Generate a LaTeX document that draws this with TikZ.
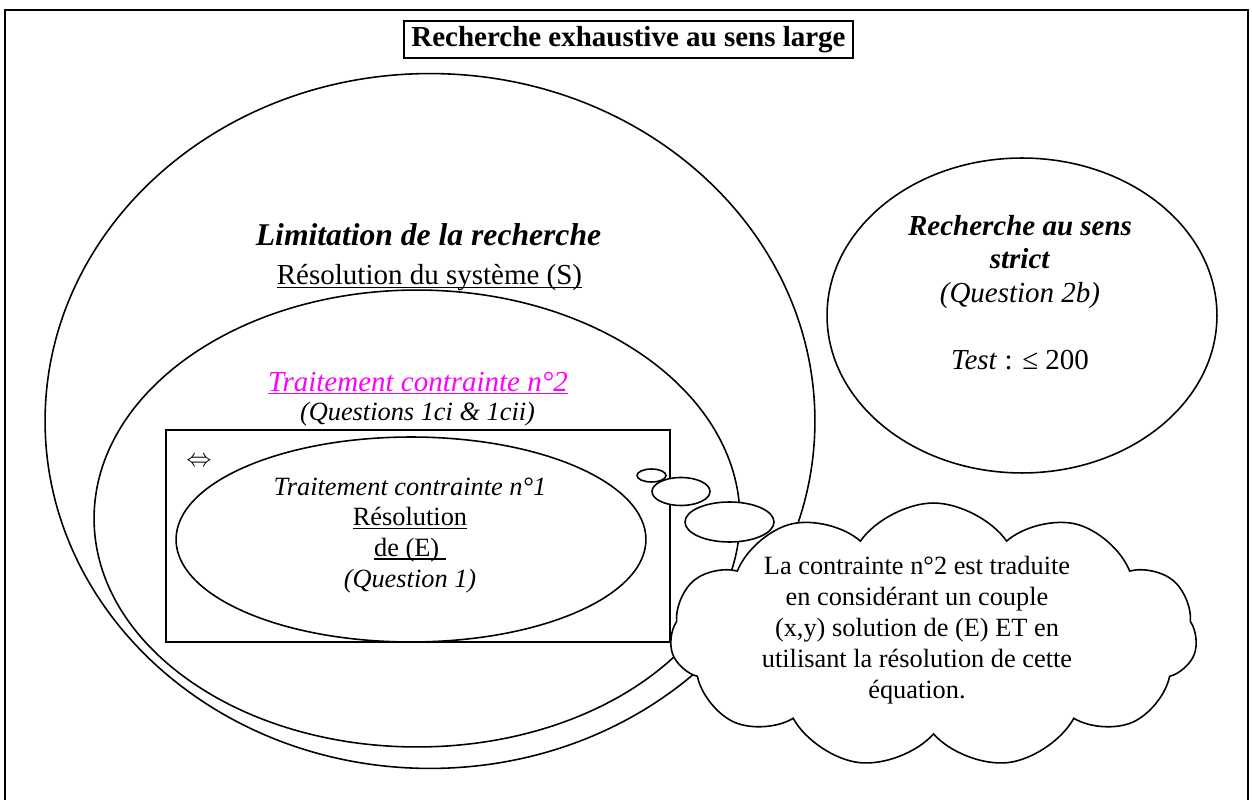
\documentclass[tikz,border=0pt]{standalone}
\usepackage{fontspec}
\setmainfont{Liberation Serif}
\usetikzlibrary{shapes.geometric,shapes.symbols}
\definecolor{wordmagenta}{RGB}{255,0,255}
% underline drawn at a fixed depth, as a word processor does
\newcommand{\undl}[1]{\setbox0\hbox{#1}\rlap{\rule[-1.6pt]{\wd0}{0.7pt}}\box0}

\begin{document}
\begin{tikzpicture}[
    x=0.02cm, y=-0.02cm,
    line width=0.9pt,
    % Style for the large zones (ellipses)
    zone/.style={ellipse, draw, fill=white, inner sep=0pt},
    % Style for the little bubbles of the thought
    bubble/.style={ellipse, draw, fill=white, inner sep=0pt},
    % Text styles
    bodytext/.style={font=\fontsize{15}{17.6}\selectfont, align=center, inner sep=0pt},
    bigtext/.style={font=\fontsize{16.5}{19}\selectfont, align=center, inner sep=0pt}
]
    \useasboundingbox (0,0) rectangle (1252,800);

    % --- 1. Define Coordinates ---
    \coordinate (big) at (430, 421);
    \coordinate (sys) at (417, 518.5);
    \coordinate (box) at (418, 536);
    \coordinate (inner) at (411, 539.5);
    \coordinate (strict) at (1022, 315.5);
    \coordinate (thought) at (933.5, 635.5);

    % --- 2. Frame and Title ---
    \draw[line width=1.1pt] (5,10) rectangle (1248,815);
    \node[draw, line width=1.2pt, minimum width=8.98cm, minimum height=0.74cm, inner sep=0pt,
          font=\bfseries\fontsize{16.5}{19}\selectfont] (title) at (628.5,39.5)
          {Recherche exhaustive au sens large};

    % --- 3. Draw Zones ---
    \node[zone, minimum width=15.4cm, minimum height=13.9cm] (bigzone) at (big) {};
    \node[zone, minimum width=12.92cm, minimum height=9.14cm] (syszone) at (sys) {};
    \node[draw, fill=white, minimum width=10.08cm, minimum height=4.24cm, inner sep=0pt] (boxzone) at (box) {};
    \node[zone, minimum width=9.4cm, minimum height=4.1cm] (innerzone) at (inner) {};
    \node[zone, minimum width=7.8cm, minimum height=6.3cm] (strictzone) at (strict) {};

    % --- 4. Draw the Thought (bubbles and cloud) ---
    \node[bubble, minimum width=0.58cm, minimum height=0.26cm] (b1) at (651.5, 475.5) {};
    \node[bubble, minimum width=1.16cm, minimum height=0.56cm] (b2) at (681, 491.5) {};
    \node[bubble, minimum width=1.78cm, minimum height=0.8cm] (b3) at (729.5, 522) {};
    \node[cloud, draw, fill=white, cloud puffs=11, cloud puff arc=110, aspect=2,
          minimum width=10.54cm, minimum height=5.3cm, inner sep=0pt] (cloud) at (thought) {};

    % --- 5. Texts ---
    \node[font=\bfseries\itshape\fontsize{18}{21}\selectfont, inner sep=0pt] (limtxt) at (428.5, 235)
        {Limitation de la recherche};
    \node[bigtext] (systxt) at (429.5, 278) {\undl{Résolution du système (S)}};
    \node[bigtext, text=wordmagenta] (c2txt) at (418, 383) {\itshape\undl{Traitement contrainte n°2}};
    \node[bodytext] (q1ctxt) at (417.5, 414) {\itshape (Questions 1ci \& 1cii)};
    \node[bodytext] (c1txt) at (410, 535.5)
        {\textit{Traitement contrainte n°1}\\ \undl{Résolution}\\ \undl{de (E) }\\ \textit{(Question 1)}};
    \node[inner sep=0pt, font=\fontsize{13.5}{15}\selectfont] (equiv) at (199, 462) {$\Leftrightarrow$};
    \node[bigtext] (stricttxt) at (1020, 292.5)
        {\textbf{\textit{Recherche au sens}}\\ \textbf{\textit{strict}}\\ \textit{(Question 2b)}\\[19pt] \textit{Test} : ≤ 200};
    \node[bodytext] (cloudtxt) at (917, 630)
        {La contrainte n°2 est traduite\\ en considérant un couple\\ (x,y) solution de (E) ET en\\
         utilisant la résolution de cette\\ équation.};

\end{tikzpicture}
\end{document}
